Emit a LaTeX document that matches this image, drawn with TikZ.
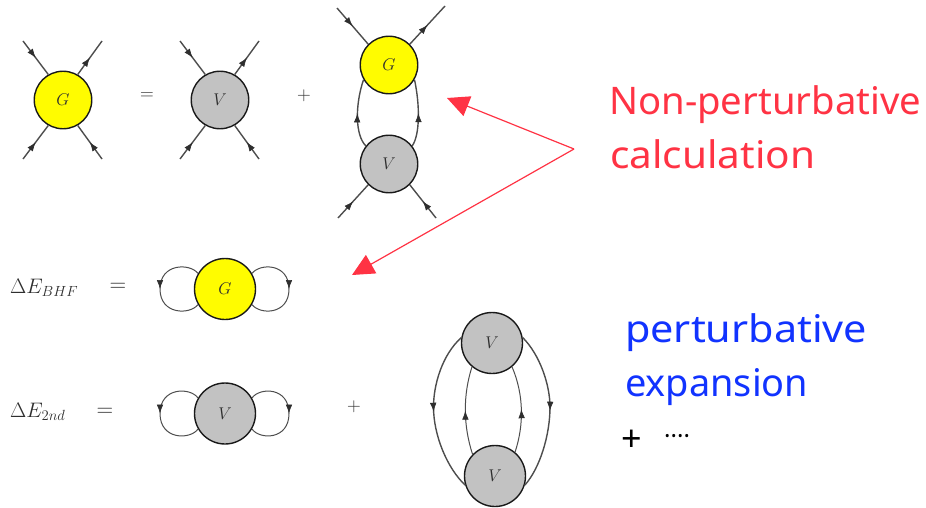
\documentclass[tikz,border=0pt]{standalone}
\usepackage{fix-cm}
\usepackage{graphicx}
\usepackage{fontspec}
\usetikzlibrary{arrows.meta,decorations.markings}
\newfontfamily\handfont{Noto Sans}
\definecolor{ink}{HTML}{2E2E2E}
\definecolor{blobgray}{HTML}{C2C2C2}
\definecolor{blobyellow}{HTML}{FFFC00}
\definecolor{redtxt}{HTML}{FF3344}
\definecolor{bluetxt}{HTML}{1133FF}
\newcommand{\lbl}[1]{\fontsize{17}{20}\selectfont$#1$}
\newcommand{\fitw}[2]{\resizebox{#1}{\height}{#2}}
\tikzset{
  x=1pt,y=-1pt,
  blob/.style={circle,draw=black!90,line width=1.4pt,minimum size=#1,inner sep=0pt,text=ink},
  yblob/.style={blob=#1,fill=blobyellow},
  gblob/.style={blob=#1,fill=blobgray},
  prop/.style={draw=ink!85,line width=1.4pt,postaction={decorate},
    decoration={markings,mark=at position #1 with {\arrow[ink,line width=.6pt]{Latex[length=9pt,width=6.5pt]}}}},
  prop/.default=.5,
  thinprop/.style={prop=#1,line width=1pt},
  thinprop/.default=.5,
  eqn/.style={text=ink,inner sep=0pt},
  redarrow/.style={draw=redtxt,line width=1.2pt,-{Triangle[length=22pt,width=21pt]}},
  hand/.style={inner sep=0pt,anchor=base west,font=\handfont\fontsize{38}{40}\selectfont},
}
\begin{document}
\begin{tikzpicture}
\useasboundingbox (0,0) rectangle (926,508);
% blobs
\node[yblob=57.5pt] (g1) at (63,100) {\lbl{G}};
\node[gblob=57.5pt] (v1) at (220,100) {\lbl{V}};
\node[yblob=57.5pt] (g2) at (389,65) {\lbl{G}};
\node[gblob=57.5pt] (v2) at (389,164) {\lbl{V}};
\node[yblob=61pt] (g3) at (225,289) {\lbl{G}};
\node[gblob=61pt] (v3) at (225,413.5) {\lbl{V}};
\node[gblob=61pt] (v4) at (492,343) {\lbl{V}};
\node[gblob=61pt] (v5) at (495,476) {\lbl{V}};
% free ends
\coordinate (a1) at (23,41); \coordinate (a2) at (102,41);
\coordinate (a3) at (23,159); \coordinate (a4) at (102,159);
\coordinate (b1) at (180,41); \coordinate (b2) at (259,41);
\coordinate (b3) at (180,159); \coordinate (b4) at (259,159);
\coordinate (c1) at (337,8); \coordinate (c2) at (445,6);
\coordinate (c3) at (338,218); \coordinate (c4) at (436,218);
% legs
\draw[prop] (a1) -- (g1.120); \draw[prop] (g1.60) -- (a2);
\draw[prop] (a3) -- (g1.240); \draw[prop] (a4) -- (g1.300);
\draw[prop] (b1) -- (v1.120); \draw[prop] (v1.60) -- (b2);
\draw[prop] (b3) -- (v1.240); \draw[prop] (b4) -- (v1.300);
\draw[prop] (c1) -- (g2.135); \draw[prop] (g2.45) -- (c2);
\draw[prop] (c3) -- (v2.225); \draw[prop] (c4) -- (v2.315);
% ladder
\draw[prop] (v2.142) .. controls (355,135) and (355,105) .. (g2.210);
\draw[prop] (v2.38) .. controls (420,135) and (420,105) .. (g2.330);
% bubbles
\draw[thinprop] (g3.150) .. controls (190,263) and (160,263) .. (160,289) .. controls (160,315) and (190,315) .. (g3.210);
\draw[thinprop] (g3.30) .. controls (260,263) and (289,263) .. (289,289) .. controls (289,315) and (260,315) .. (g3.330);
\draw[thinprop] (v3.150) .. controls (190,387) and (160,387) .. (160,413.5) .. controls (160,440) and (190,440) .. (v3.210);
\draw[thinprop] (v3.30) .. controls (260,387) and (289,387) .. (289,413.5) .. controls (289,440) and (260,440) .. (v3.330);
% large diagram
\draw[prop] (v4.170) .. controls (442,355) and (433.5,385) .. (433.5,407) .. controls (433.5,435) and (447,468) .. (v5.197);
\draw[prop] (v4.10) .. controls (540,355) and (550,385) .. (550,407) .. controls (550,435) and (540,468) .. (v5.343);
\draw[thinprop] (v5.136) .. controls (463,425) and (463,395) .. (v4.230);
\draw[thinprop] (v5.50) .. controls (524,425) and (524,395) .. (v4.310);
% equation signs
\node[eqn,font=\fontsize{19}{22}\selectfont] (eq1) at (147,96) {$=$};
\node[eqn,font=\fontsize{19}{22}\selectfont] (pl1) at (304,95.5) {$+$};
\node[eqn,font=\fontsize{21}{24}\selectfont,anchor=base west] (lhsa) at (10,293) {$\Delta E_{\scriptstyle BHF}$};
\node[eqn,font=\fontsize{23}{26}\selectfont] (eq2) at (118,287) {$=$};
\node[eqn,font=\fontsize{21}{24}\selectfont,anchor=base west] (lhsb) at (10,417) {$\Delta E_{\scriptstyle 2nd}$};
\node[eqn,font=\fontsize{23}{26}\selectfont] (eq3) at (105,412) {$=$};
\node[eqn,font=\fontsize{19}{22}\selectfont] (pl2) at (354,407) {$+$};
% coloured text
\node[hand,text=redtxt] (np) at (609,115) {\fitw{312pt}{Non-perturbative}};
\node[hand,text=redtxt] (calc) at (610,168) {\fitw{205pt}{calculation}};
\node[hand,text=bluetxt] (pe) at (625,342) {\fitw{242pt}{perturbative}};
\node[hand,text=bluetxt] (ex) at (625,396) {\fitw{183pt}{expansion}};
\node[inner sep=0pt,font=\handfont\bfseries\fontsize{36}{38}\selectfont] (plus) at (632,441) {+};
\node[inner sep=0pt,anchor=base west,font=\handfont\bfseries\fontsize{24}{26}\selectfont] (dots) at (664,444) {····};
% red arrows
\coordinate (fork) at (574,149);
\coordinate (t1) at (447,98);
\coordinate (t2) at (352,275);
\draw[redarrow] (fork) -- (t1);
\draw[redarrow] (fork) -- (t2);
\end{tikzpicture}
\end{document}
